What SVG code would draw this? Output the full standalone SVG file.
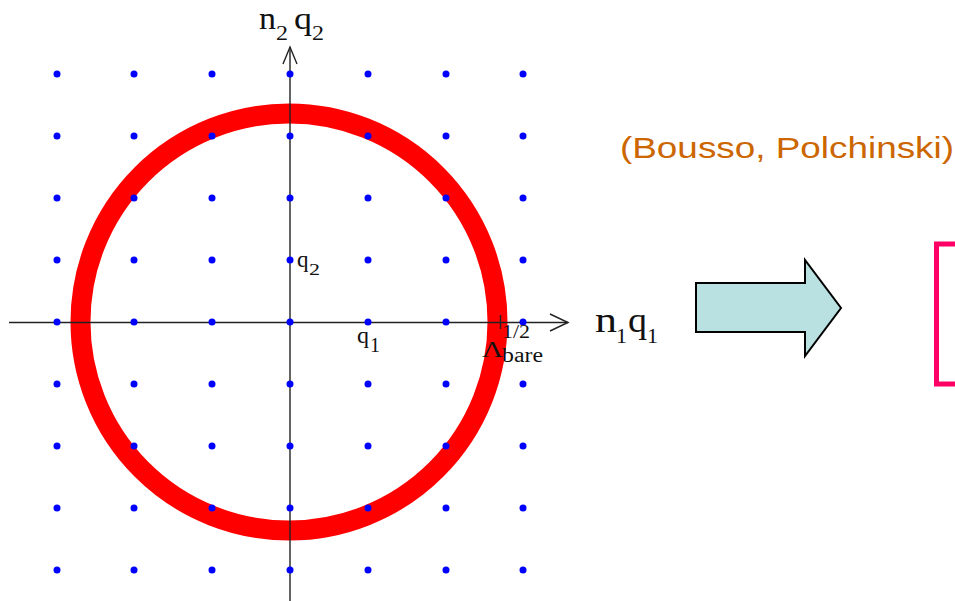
<svg xmlns="http://www.w3.org/2000/svg" width="955" height="601" viewBox="0 0 955 601">
<style>
.dot{fill:#0000ff}
.ax{stroke:#222;stroke-width:1.4;fill:none}
.m{font-family:"Liberation Serif",serif;fill:#111}
</style>
<rect width="955" height="601" fill="#fff"/>
<g id="ring"><circle cx="289" cy="322" r="208.5" fill="none" stroke="#ff0000" stroke-width="20"/></g>
<g id="axes">
<line class="ax" x1="9" y1="322.5" x2="568" y2="322.5"/>
<polyline class="ax" points="550,314 568,322.5 550,331"/>
<line class="ax" x1="290" y1="601" x2="290" y2="47"/>
<polyline class="ax" points="283,64 290,47 297,64"/>
<line class="ax" x1="500.5" y1="315" x2="500.5" y2="329"/>
</g>
<g id="lattice">
<g id="row1"><circle class="dot" cx="57" cy="74" r="3.5"/><circle class="dot" cx="134" cy="74" r="3.5"/><circle class="dot" cx="212" cy="74" r="3.5"/><circle class="dot" cx="290" cy="74" r="3.5"/><circle class="dot" cx="368" cy="74" r="3.5"/><circle class="dot" cx="446" cy="74" r="3.5"/><circle class="dot" cx="523" cy="74" r="3.5"/></g>
<g id="row2"><circle class="dot" cx="57" cy="136" r="3.5"/><circle class="dot" cx="134" cy="136" r="3.5"/><circle class="dot" cx="212" cy="136" r="3.5"/><circle class="dot" cx="290" cy="136" r="3.5"/><circle class="dot" cx="368" cy="136" r="3.5"/><circle class="dot" cx="446" cy="136" r="3.5"/><circle class="dot" cx="523" cy="136" r="3.5"/></g>
<g id="row3"><circle class="dot" cx="57" cy="198" r="3.5"/><circle class="dot" cx="134" cy="198" r="3.5"/><circle class="dot" cx="212" cy="198" r="3.5"/><circle class="dot" cx="290" cy="198" r="3.5"/><circle class="dot" cx="368" cy="198" r="3.5"/><circle class="dot" cx="446" cy="198" r="3.5"/><circle class="dot" cx="523" cy="198" r="3.5"/></g>
<g id="row4"><circle class="dot" cx="57" cy="260" r="3.5"/><circle class="dot" cx="134" cy="260" r="3.5"/><circle class="dot" cx="212" cy="260" r="3.5"/><circle class="dot" cx="290" cy="260" r="3.5"/><circle class="dot" cx="368" cy="260" r="3.5"/><circle class="dot" cx="446" cy="260" r="3.5"/><circle class="dot" cx="523" cy="260" r="3.5"/></g>
<g id="row5"><circle class="dot" cx="57" cy="322" r="3.5"/><circle class="dot" cx="134" cy="322" r="3.5"/><circle class="dot" cx="212" cy="322" r="3.5"/><circle class="dot" cx="290" cy="322" r="3.5"/><circle class="dot" cx="368" cy="322" r="3.5"/><circle class="dot" cx="446" cy="322" r="3.5"/><circle class="dot" cx="523" cy="322" r="3.5"/></g>
<g id="row6"><circle class="dot" cx="57" cy="384" r="3.5"/><circle class="dot" cx="134" cy="384" r="3.5"/><circle class="dot" cx="212" cy="384" r="3.5"/><circle class="dot" cx="290" cy="384" r="3.5"/><circle class="dot" cx="368" cy="384" r="3.5"/><circle class="dot" cx="446" cy="384" r="3.5"/><circle class="dot" cx="523" cy="384" r="3.5"/></g>
<g id="row7"><circle class="dot" cx="57" cy="446" r="3.5"/><circle class="dot" cx="134" cy="446" r="3.5"/><circle class="dot" cx="212" cy="446" r="3.5"/><circle class="dot" cx="290" cy="446" r="3.5"/><circle class="dot" cx="368" cy="446" r="3.5"/><circle class="dot" cx="446" cy="446" r="3.5"/><circle class="dot" cx="523" cy="446" r="3.5"/></g>
<g id="row8"><circle class="dot" cx="57" cy="508" r="3.5"/><circle class="dot" cx="134" cy="508" r="3.5"/><circle class="dot" cx="212" cy="508" r="3.5"/><circle class="dot" cx="290" cy="508" r="3.5"/><circle class="dot" cx="368" cy="508" r="3.5"/><circle class="dot" cx="446" cy="508" r="3.5"/><circle class="dot" cx="523" cy="508" r="3.5"/></g>
<g id="row9"><circle class="dot" cx="57" cy="570" r="3.5"/><circle class="dot" cx="134" cy="570" r="3.5"/><circle class="dot" cx="212" cy="570" r="3.5"/><circle class="dot" cx="290" cy="570" r="3.5"/><circle class="dot" cx="368" cy="570" r="3.5"/><circle class="dot" cx="446" cy="570" r="3.5"/><circle class="dot" cx="523" cy="570" r="3.5"/></g>
</g>
<g id="labels">
<text class="m" x="259" y="29" font-size="31" textLength="17" lengthAdjust="spacingAndGlyphs">n</text>
<text class="m" x="276" y="40" font-size="20" textLength="12" lengthAdjust="spacingAndGlyphs">2</text>
<text class="m" x="294" y="29" font-size="31" textLength="18" lengthAdjust="spacingAndGlyphs">q</text>
<text class="m" x="312" y="40" font-size="20" textLength="12" lengthAdjust="spacingAndGlyphs">2</text>
<text class="m" x="595" y="332" font-size="36" textLength="22" lengthAdjust="spacingAndGlyphs">n</text>
<text class="m" x="616" y="343" font-size="22" textLength="11" lengthAdjust="spacingAndGlyphs">1</text>
<text class="m" x="628" y="332" font-size="36" textLength="19" lengthAdjust="spacingAndGlyphs">q</text>
<text class="m" x="647" y="343" font-size="22" textLength="11" lengthAdjust="spacingAndGlyphs">1</text>
<text class="m" x="297" y="267" font-size="23">q</text>
<text class="m" x="309" y="275" font-size="17" textLength="11" lengthAdjust="spacingAndGlyphs">2</text>
<text class="m" x="357" y="343" font-size="24">q</text>
<text class="m" x="370" y="352" font-size="20" textLength="10" lengthAdjust="spacingAndGlyphs">1</text>
<text class="m" x="482" y="357" font-size="23" textLength="21" lengthAdjust="spacingAndGlyphs">Λ</text>
<text class="m" x="502" y="338" font-size="19" textLength="28" lengthAdjust="spacingAndGlyphs">1/2</text>
<text class="m" x="502" y="362" font-size="20" textLength="41" lengthAdjust="spacingAndGlyphs">bare</text>
</g>
<g id="citation"><text x="620" y="158" font-family="Liberation Sans,Arial,sans-serif" font-size="30" fill="#cc6600" textLength="334" lengthAdjust="spacingAndGlyphs">(Bousso, Polchinski)</text></g>
<g id="bigarrow"><polygon points="696,283 805,283 805,260 841,308 805,356 805,332 696,332" fill="#b9e1e2" stroke="#000" stroke-width="2" stroke-linejoin="miter"/></g>
<g id="bracket"><rect x="936.5" y="244" width="40" height="140" fill="none" stroke="#ff0066" stroke-width="5"/></g>
</svg>
